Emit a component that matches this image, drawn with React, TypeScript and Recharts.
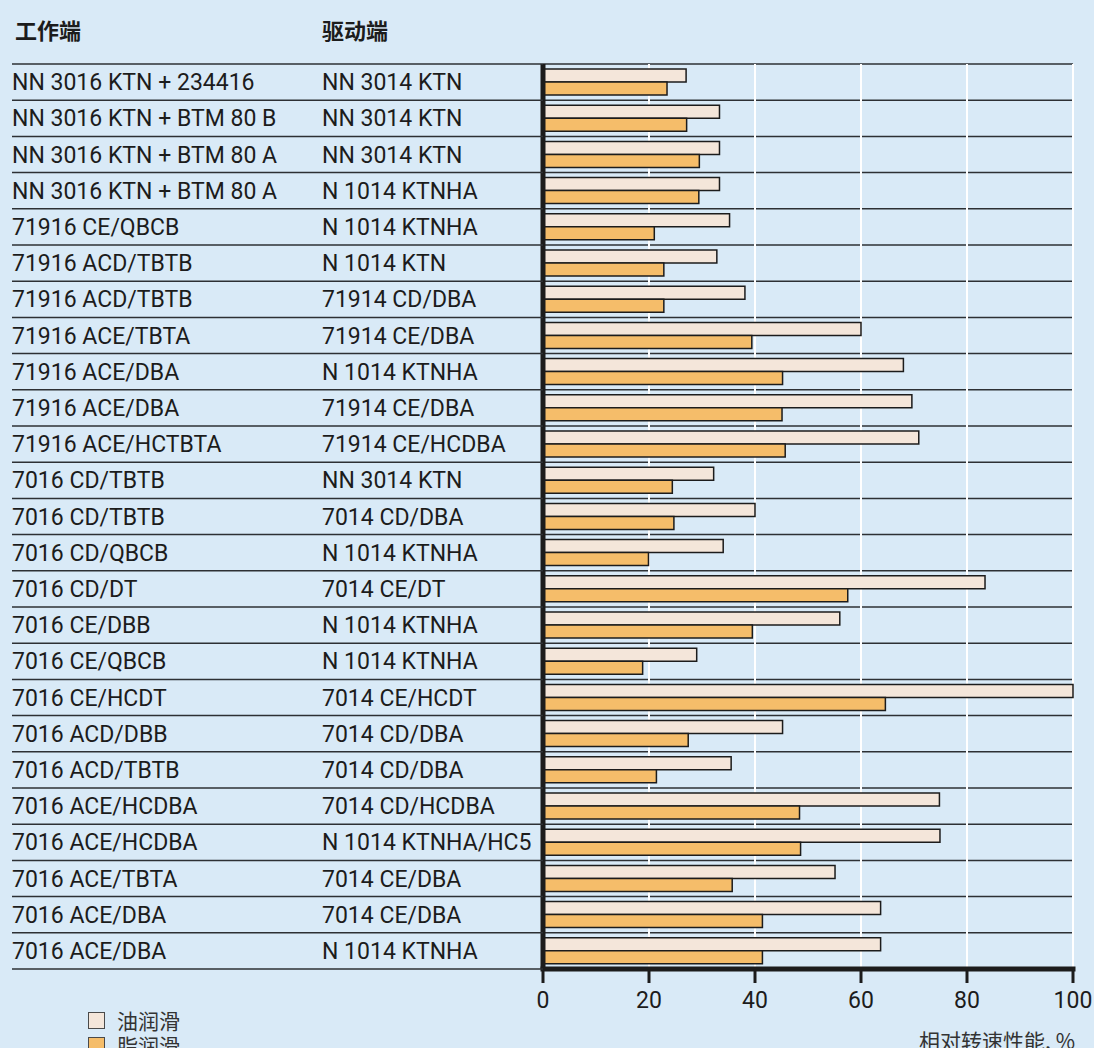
import { BarChart, Bar, XAxis, YAxis, CartesianGrid, Legend } from 'recharts';

const workEnd = [
  'NN 3016 KTN + 234416', 'NN 3016 KTN + BTM 80 B', 'NN 3016 KTN + BTM 80 A', 'NN 3016 KTN + BTM 80 A',
  '71916 CE/QBCB', '71916 ACD/TBTB', '71916 ACD/TBTB', '71916 ACE/TBTA', '71916 ACE/DBA', '71916 ACE/DBA',
  '71916 ACE/HCTBTA', '7016 CD/TBTB', '7016 CD/TBTB', '7016 CD/QBCB', '7016 CD/DT', '7016 CE/DBB',
  '7016 CE/QBCB', '7016 CE/HCDT', '7016 ACD/DBB', '7016 ACD/TBTB', '7016 ACE/HCDBA', '7016 ACE/HCDBA',
  '7016 ACE/TBTA', '7016 ACE/DBA', '7016 ACE/DBA',
];
const driveEnd = [
  'NN 3014 KTN', 'NN 3014 KTN', 'NN 3014 KTN', 'N 1014 KTNHA', 'N 1014 KTNHA', 'N 1014 KTN',
  '71914 CD/DBA', '71914 CE/DBA', 'N 1014 KTNHA', '71914 CE/DBA', '71914 CE/HCDBA', 'NN 3014 KTN',
  '7014 CD/DBA', 'N 1014 KTNHA', '7014 CE/DT', 'N 1014 KTNHA', 'N 1014 KTNHA', '7014 CE/HCDT',
  '7014 CD/DBA', '7014 CD/DBA', '7014 CD/HCDBA', 'N 1014 KTNHA/HC5', '7014 CE/DBA', '7014 CE/DBA',
  'N 1014 KTNHA',
];
// 油润滑
const oil = [27, 33.3, 33.3, 33.3, 35.2, 32.8, 38.1, 60, 68, 69.6, 70.9, 32.2, 40, 34, 83.4, 56, 29, 100, 45.2, 35.5, 74.8, 74.9, 55.1, 63.7, 63.7];
// 脂润滑
const grease = [23.4, 27.1, 29.5, 29.4, 21, 22.8, 22.8, 39.4, 45.2, 45.1, 45.7, 24.4, 24.7, 19.9, 57.5, 39.5, 18.8, 64.6, 27.4, 21.4, 48.4, 48.6, 35.7, 41.4, 41.4];
const xTicks = [0, 20, 40, 60, 80, 100];

const BG = '#d9eaf7';
const OIL = '#f4e6da';
const GREASE = '#f5bd6a';
const INK = '#1c1c1c';
const LINE = '#2d3034';
const FONT = "Roboto, 'Noto Sans CJK SC', sans-serif";
const CJK = "'Noto Sans CJK SC', sans-serif";

const TOP = 64;
const PLOT_BOTTOM = 969;
const ROW_H = (PLOT_BOTTOM - TOP) / workEnd.length;

const data = workEnd.map((w, i) => ({ row: i, work: w, drive: driveEnd[i], oil: oil[i], grease: grease[i] }));

function RowTick({ y, payload }: any) {
  const i = payload.value as number;
  return (
    <g>
      <text x={12} y={y + 8} fontSize={23} fontFamily={FONT} fill={INK}>{workEnd[i]}</text>
      <text x={322} y={y + 8} fontSize={23} fontFamily={FONT} fill={INK}>{driveEnd[i]}</text>
      {i === 0 && <line x1={12} x2={543} y1={y - ROW_H / 2} y2={y - ROW_H / 2} stroke={LINE} strokeWidth={1.5} />}
      <line x1={12} x2={543} y1={y + ROW_H / 2} y2={y + ROW_H / 2} stroke={LINE} strokeWidth={1.5} />
    </g>
  );
}

function ValueTick({ x, y, payload }: any) {
  return (
    <g>
      <line x1={x} x2={x} y1={y} y2={y + 14} stroke={INK} strokeWidth={3} />
      <text x={x} y={y + 39} textAnchor="middle" fontSize={23} fontFamily={FONT} fill={INK}>{payload.value}</text>
    </g>
  );
}

function LegendBox() {
  const items = [{ name: '油润滑', color: OIL }, { name: '脂润滑', color: GREASE }];
  return (
    <div>
      {items.map(it => (
        <div key={it.name} style={{ display: 'flex', alignItems: 'center', height: 25 }}>
          <span style={{ boxSizing: 'border-box', width: 17, height: 17, background: it.color, border: '1.5px solid #4a4a4a', marginRight: 12 }} />
          <span style={{ fontFamily: CJK, fontSize: 21, color: '#333', lineHeight: '25px' }}>{it.name}</span>
        </div>
      ))}
    </div>
  );
}

export default function App() {
  return (
    <div style={{ position: 'absolute', left: 0, top: 0, width: 1094, height: 1048, background: BG, overflow: 'hidden' }}>
      <div style={{ position: 'absolute', left: 15, top: 13, fontFamily: CJK, fontWeight: 700, fontSize: 22, color: INK }}>工作端</div>
      <div style={{ position: 'absolute', left: 322, top: 13, fontFamily: CJK, fontWeight: 700, fontSize: 22, color: INK }}>驱动端</div>
      <BarChart
        width={1094}
        height={1048}
        data={data}
        layout="vertical"
        margin={{ top: TOP, right: 21, bottom: 0, left: 0 }}
        barSize={13}
        barGap={0}
      >
        <CartesianGrid
          vertical={false}
          stroke={LINE}
          strokeWidth={1.5}
          horizontalCoordinatesGenerator={({ offset }: any) =>
            data.map((_, i) => offset.top + (i * offset.height) / data.length).concat(offset.top + offset.height)}
        />
        <CartesianGrid horizontal={false} stroke="#ffffff" strokeWidth={2} />
        <Bar dataKey="oil" fill={OIL} stroke={INK} strokeWidth={1.5} isAnimationActive={false} />
        <Bar dataKey="grease" fill={GREASE} stroke={INK} strokeWidth={1.5} isAnimationActive={false} />
        <XAxis
          type="number"
          domain={[0, 100]}
          ticks={xTicks}
          height={1048 - PLOT_BOTTOM}
          tickSize={0}
          tickMargin={0}
          tickLine={false}
          axisLine={{ stroke: INK, strokeWidth: 5, strokeLinecap: 'square' }}
          tick={<ValueTick />}
        />
        <YAxis
          type="category"
          dataKey="row"
          width={543}
          interval={0}
          tickLine={false}
          axisLine={{ stroke: INK, strokeWidth: 5 }}
          tick={<RowTick />}
        />
        <Legend
          layout="vertical"
          align="center"
          verticalAlign="middle"
          content={<LegendBox />}
          wrapperStyle={{ position: 'absolute', left: 88, top: 1008, width: 200 }}
        />
      </BarChart>
      <div style={{ position: 'absolute', right: 19, top: 1025, fontFamily: CJK, fontSize: 21, color: '#333', whiteSpace: 'nowrap' }}>相对转速性能, %</div>
    </div>
  );
}
